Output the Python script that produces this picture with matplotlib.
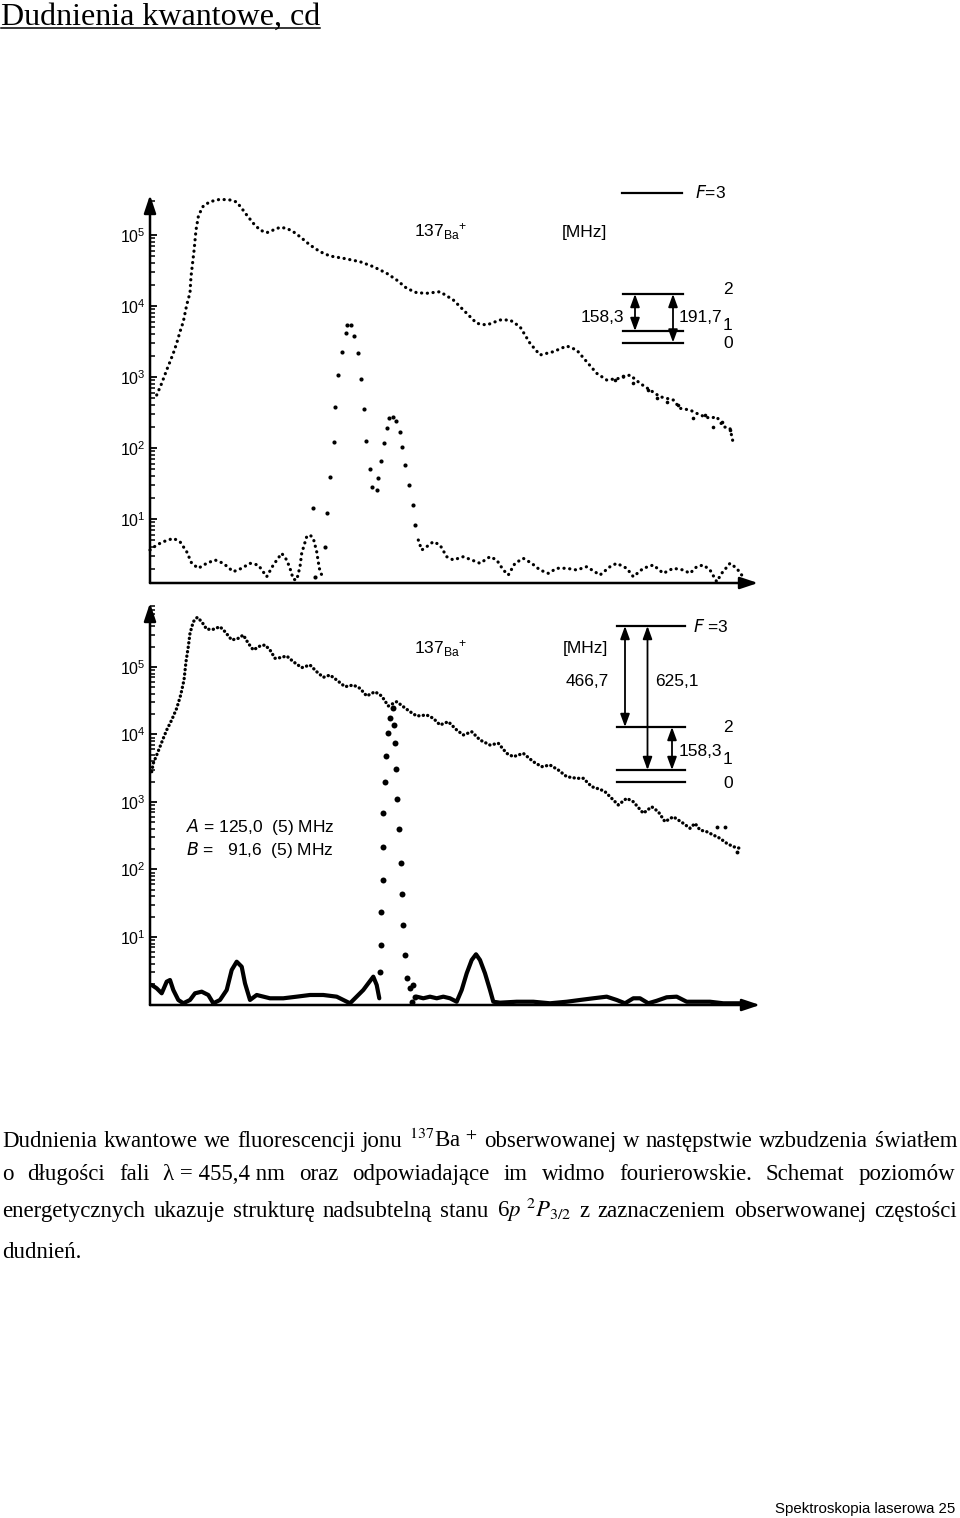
import numpy as np
import matplotlib
matplotlib.use("Agg")
import matplotlib.pyplot as plt
from matplotlib.ticker import FixedLocator, FuncFormatter, NullFormatter
from matplotlib.patches import FancyArrowPatch
from matplotlib.lines import Line2D
import warnings
warnings.filterwarnings("ignore")
import logging
logging.getLogger("matplotlib.font_manager").setLevel(logging.ERROR)

# ---------------- data (t: arbitrary time / frequency units, lg: log10 counts) --------------
# upper panel: decay curve
top_decay_t = [6.7, 11.7, 16.7, 20, 23.3, 26.7, 30, 33.3, 36.7, 40, 41, 44, 46, 48.3, 50.7,
               53.3, 60, 70, 80, 86.7, 91.7, 96.7, 103.3, 110, 116.7, 123.3, 130, 136.7, 143.3, 150,
               160, 170, 180, 193.3, 210, 223.3, 236.7, 246.7, 256.7, 266.7, 276.7, 290, 303.3, 316.7, 326.7,
               336.7, 350, 360, 370, 380, 390, 403.3, 416.7, 426.7, 436.7, 446.7, 456.7, 470, 480, 490,
               500, 510, 523.3, 530, 540, 550, 560, 566.7, 573.3, 580, 583.3]
top_decay_lg = [2.746, 2.911, 3.099, 3.215, 3.334, 3.475, 3.638, 3.779, 4.014, 4.187, 4.413, 4.775, 5.070, 5.258, 5.338,
                5.408, 5.469, 5.503, 5.493, 5.465, 5.376, 5.282, 5.165, 5.070, 5.032, 5.070, 5.108, 5.094, 5.046, 4.976,
                4.859, 4.765, 4.704, 4.672, 4.624, 4.554, 4.461, 4.366, 4.249, 4.187, 4.179, 4.201, 4.085, 3.897, 3.756,
                3.732, 3.803, 3.803, 3.708, 3.475, 3.310, 3.356, 3.437, 3.380, 3.215, 3.052, 2.958, 2.982, 3.028, 2.911,
                2.817, 2.723, 2.676, 2.559, 2.535, 2.465, 2.418, 2.441, 2.300, 2.277, 2.066]
top_noise_t = [465, 472.7, 483.3, 498.3, 506.7, 516.7, 528.3, 543.3, 555, 563.3, 571.7, 580]
top_noise_lg = [2.958, 3.014, 2.911, 2.817, 2.700, 2.652, 2.606, 2.418, 2.465, 2.300, 2.370, 2.254]

# upper panel: Fourier spectrum
top_fft_left_t = [0, 6.7, 13.3, 23.3, 30, 36.7, 41.7, 48.3, 56.7, 65, 73.3, 83.3, 91.7, 100, 108.3,
                  116.7, 123.3, 131.7, 136.7, 140, 143.3, 146.7, 150, 151.7, 156.7, 160, 163.3, 166.7, 169.3, 171.7]
top_fft_left_lg = [0.563, 0.634, 0.680, 0.728, 0.680, 0.539, 0.376, 0.306, 0.376, 0.423, 0.376, 0.258, 0.306, 0.376, 0.352,
                   0.187, 0.352, 0.517, 0.423, 0.306, 0.151, 0.141, 0.328, 0.517, 0.751, 0.775, 0.728, 0.539, 0.306, 0.211]
top_fft_peak_t = [162.7, 165, 175, 177.3, 180, 184, 185, 188.3, 191.7, 195.7, 197.3, 200.7, 204.3, 207.7, 210.7,
                  214, 216, 220, 222.3, 226.7, 228.3, 231, 234.3, 236.7, 239.3, 242.7, 246, 250, 252.3, 255,
                  259, 262.7, 265]
top_fft_peak_lg = [1.150, 0.187, 0.610, 1.080, 1.596, 2.089, 2.582, 3.028, 3.356, 3.615, 3.732, 3.732, 3.582, 3.334, 2.968,
                   2.545, 2.103, 1.700, 1.455, 1.408, 1.573, 1.821, 2.075, 2.277, 2.418, 2.441, 2.385, 2.221, 2.010, 1.756,
                   1.479, 1.197, 0.915]
top_fft_right_t = [268.3, 271.7, 276.7, 283.3, 290, 296.7, 303.3, 313.3, 321.7, 330, 340, 346.7, 353.3, 358.3, 365,
                   373.3, 381.7, 390, 398.3, 406.7, 416.7, 426.7, 436.7, 450, 460, 466.7, 476.7, 483.3, 493.3, 503.3,
                   513.3, 523.3, 533.3, 540, 546.7, 553.3, 560, 566.7, 571.7, 580, 586.7, 591.7]
top_fft_right_lg = [0.704, 0.563, 0.610, 0.680, 0.634, 0.469, 0.423, 0.469, 0.423, 0.376, 0.469, 0.423, 0.282, 0.211, 0.376,
                    0.446, 0.376, 0.282, 0.235, 0.306, 0.306, 0.282, 0.328, 0.211, 0.328, 0.376, 0.306, 0.187, 0.306, 0.352,
                    0.235, 0.306, 0.282, 0.235, 0.328, 0.352, 0.282, 0.117, 0.235, 0.376, 0.306, 0.211]

# lower panel: decay curve
bot_decay_t = [1.7, 3.3, 6.7, 10, 13.3, 16.7, 21.7, 26.7, 30.7, 34, 36, 38.3, 40, 43.3, 47.3,
               51.7, 56.7, 63.3, 70, 75, 81.7, 88.3, 93.3, 98.3, 103.3, 110, 115, 120, 125, 130,
               136.7, 143.3, 151.7, 160, 166.7, 173.3, 180, 186.7, 195, 203.3, 210, 216.7, 225, 231.7, 238.3,
               246.7, 253.3, 260, 266.7, 276.7, 283.3, 290, 298.3, 306.7, 313.3, 321.7, 330, 340, 348.3, 356.7,
               363.3, 373.3, 383.3, 391.7, 400, 408.3, 416.7, 426.7, 433.3, 441.7, 450, 455, 460, 468.3, 476.7,
               483.3, 493.3, 501.7, 508.3, 515, 523.3, 533.3, 540, 545, 550, 556.7, 563.3, 570, 576.7, 583.3, 590]
bot_decay_lg = [3.449, 3.573, 3.696, 3.819, 3.944, 4.067, 4.215, 4.388, 4.585, 4.807, 5.079, 5.301, 5.499, 5.671, 5.736,
                5.671, 5.559, 5.559, 5.597, 5.523, 5.400, 5.425, 5.474, 5.351, 5.252, 5.311, 5.326, 5.252, 5.129, 5.138,
                5.163, 5.079, 4.990, 5.030, 4.930, 4.847, 4.881, 4.807, 4.708, 4.733, 4.684, 4.570, 4.634, 4.570, 4.422,
                4.486, 4.412, 4.338, 4.274, 4.289, 4.240, 4.141, 4.190, 4.067, 3.993, 4.041, 3.919, 3.844, 3.870, 3.721,
                3.671, 3.721, 3.597, 3.523, 3.548, 3.474, 3.375, 3.351, 3.351, 3.227, 3.188, 3.153, 3.079, 2.956, 3.055,
                3.004, 2.833, 2.930, 2.856, 2.708, 2.782, 2.684, 2.610, 2.684, 2.585, 2.560, 2.511, 2.462, 2.388, 2.338, 2.314]
bot_noise_t = [566.7, 575, 586.7]
bot_noise_lg = [2.634, 2.634, 2.264]

# lower panel: Fourier spectrum
bot_fft_left_t = [1.7, 6.7, 11.7, 16.7, 20, 23.3, 28.3, 33.3, 40, 45, 51.7, 58.3, 63.3, 70, 76.7,
                  81.7, 86.7, 91.7, 95, 100, 106.7, 120, 133.3, 146.7, 160, 173.3, 186.7, 200, 208.3, 213.3,
                  218.3, 223.3, 226.7, 229.3]
bot_fft_left_lg = [0.289, 0.240, 0.166, 0.338, 0.363, 0.215, 0.067, 0.018, 0.067, 0.166, 0.190, 0.141, 0.018, 0.067, 0.215,
                   0.511, 0.634, 0.560, 0.314, 0.067, 0.141, 0.092, 0.092, 0.116, 0.141, 0.141, 0.116, 0.018, 0.141, 0.215,
                   0.314, 0.412, 0.289, 0.092]
bot_fft_peak_t = [230, 231, 231, 232.7, 233.3, 232.7, 235, 236, 237.7, 240, 243.3, 244.3, 245, 246, 247.3,
                  249.3, 251, 252.3, 253.3, 255, 256.7, 260, 261.7, 263.3, 265]
bot_fft_peak_lg = [0.486, 0.881, 1.375, 1.844, 2.338, 2.833, 3.301, 3.686, 4.027, 4.240, 4.388, 4.141, 3.870, 3.489, 3.044,
                   2.596, 2.101, 1.637, 1.178, 0.733, 0.388, 0.240, 0.041, 0.289, 0.116]
bot_fft_right_t = [266.7, 273.3, 280, 286.7, 293.3, 300, 306.7, 311.7, 316.7, 321.7, 326, 330, 335, 340, 343.3,
                   350, 366.7, 383.3, 400, 416.7, 430, 443.3, 456.7, 466.7, 475, 483.3, 490, 498.3, 506.7, 516.7,
                   526.7, 536.7, 546.7, 560, 573.3, 586.7, 593.3]
bot_fft_right_lg = [0.116, 0.092, 0.116, 0.092, 0.116, 0.092, 0.041, 0.215, 0.462, 0.659, 0.744, 0.659, 0.462, 0.215, 0.041,
                    0.027, 0.041, 0.041, 0.018, 0.041, 0.067, 0.092, 0.116, 0.067, 0.018, 0.092, 0.092, 0.018, 0.055, 0.107,
                    0.116, 0.041, 0.041, 0.041, 0.018, 0.018, 0.018]

decade_ticks = [1e1, 1e2, 1e3, 1e4, 1e5]

# hyperfine level diagrams (labels and splittings in MHz)
top_level_labels = ["2", "1", "0"]
top_splittings = ["158,3", "191,7"]
bot_level_labels = ["2", "1", "0"]
bot_splittings = ["466,7", "625,1", "158,3"]
hfs_constants = [r"$\mathit{A}$ = 125,0  (5) MHz", r"$\mathit{B}$ =   91,6  (5) MHz"]

caption_lines = [
    ["Dudnienia", "kwantowe", "we", "fluorescencji", "jonu", r"$^{137}$Ba $^{+}$", "obserwowanej", "w",
     "następstwie", "wzbudzenia", "światłem"],
    ["o", "długości", "fali", "λ = 455,4 nm", "oraz", "odpowiadające", "im", "widmo",
     "fourierowskie.", "Schemat", "poziomów"],
    ["energetycznych", "ukazuje", "strukturę", "nadsubtelną", "stanu", r"6$p$ $^{2}P_{3/2}$", "z",
     "zaznaczeniem", "obserwowanej", "częstości"],
    ["dudnień."],
]

# ---------------- figure ----------------
W, H = 960, 1518
fig = plt.figure(figsize=(W / 100, H / 100), dpi=100)
fig.patch.set_facecolor("white")


def fx(px):
    return px / W


def fy(py):
    return 1 - py / H


SANS = ["Liberation Sans Narrow", "Liberation Sans", "DejaVu Sans"]
SERIF = ["Liberation Serif", "DejaVu Serif"]


def make_axes(left, right, bottom, top, xmax, lgmin, lgmax):
    ax = fig.add_axes([fx(left), fy(bottom), fx(right) - fx(left), fy(top) - fy(bottom)])
    ax.set_yscale("log")
    ax.set_xlim(0, xmax)
    ax.set_ylim(10 ** lgmin, 10 ** lgmax)
    for s in ax.spines.values():
        s.set_visible(False)
    ax.set_facecolor("none")
    ax.xaxis.set_visible(False)
    ax.yaxis.set_major_locator(FixedLocator(decade_ticks))
    minors = [m * 10 ** e for e in range(0, 6) for m in range(2, 10)]
    ax.yaxis.set_minor_locator(FixedLocator(minors))
    ax.yaxis.set_major_formatter(FuncFormatter(lambda v, p: r"$\mathregular{10^{%d}}$" % round(np.log10(v))))
    ax.yaxis.set_minor_formatter(NullFormatter())
    ax.tick_params(axis="y", which="major", direction="in", length=5, width=1.3, pad=3, labelsize=11.5)
    ax.tick_params(axis="y", which="minor", direction="in", length=3.5, width=1.1)
    for lab in ax.get_yticklabels():
        lab.set_family(SANS)
    arrow_kw = dict(arrowstyle="-|>,head_length=0.9,head_width=0.3", mutation_scale=12,
                    lw=1.8, color="k", shrinkA=0, shrinkB=0)
    ax.annotate("", xy=(0, 1), xytext=(0, 0), xycoords="axes fraction", arrowprops=arrow_kw)
    ax.annotate("", xy=(1, 0), xytext=(0, 0), xycoords="axes fraction", arrowprops=arrow_kw)
    return ax


def pw(lst):
    return 10 ** np.asarray(lst, dtype=float)


dot_kw = dict(color="k", lw=2.3, ls=(0, (0.05, 1.75)), dash_capstyle="round", clip_on=False)

# ---- upper panel
ax1 = make_axes(150, 758, 583, 195, 608, 5 - (583 - 235) / 71, 5 + (235 - 195) / 71)
ax1.plot(top_decay_t, pw(top_decay_lg), **dot_kw)
ax1.plot(top_noise_t, pw(top_noise_lg), "o", color="k", ms=2.6, mew=0, clip_on=False)
ax1.plot(top_fft_left_t, pw(top_fft_left_lg), **dot_kw)
ax1.plot(top_fft_right_t, pw(top_fft_right_lg), **dot_kw)
ax1.plot(top_fft_peak_t, pw(top_fft_peak_lg), "o", color="k", ms=3.0, mew=0, clip_on=False)

# ---- lower panel
ax2 = make_axes(150, 760, 1005, 603, 610, 5 - (1005 - 667) / 67.5, 5 + (667 - 603) / 67.5)
ax2.plot(bot_decay_t, pw(bot_decay_lg), color="k", lw=2.4, ls=(0, (0.05, 1.3)),
         dash_capstyle="round", clip_on=False)
ax2.plot(bot_noise_t, pw(bot_noise_lg), "o", color="k", ms=2.8, mew=0, clip_on=False)
ax2.plot(bot_fft_left_t, pw(bot_fft_left_lg), color="k", lw=3.0, solid_capstyle="round",
         solid_joinstyle="round", clip_on=False)
ax2.plot(bot_fft_right_t, pw(bot_fft_right_lg), color="k", lw=3.0, solid_capstyle="round",
         solid_joinstyle="round", clip_on=False)
ax2.plot(bot_fft_peak_t, pw(bot_fft_peak_lg), "o", color="k", ms=4.3, mew=0, clip_on=False)


# ---------------- annotation helpers ----------------
def ftext(px, py, s, size=12, ha="left", va="center", family=None, **kw):
    return fig.text(fx(px), fy(py), s, fontsize=size, ha=ha, va=va,
                    family=family or SANS, math_fontfamily="dejavusans", **kw)


def hline(x0, x1, py, lw=1.6):
    fig.add_artist(Line2D([fx(x0), fx(x1)], [fy(py), fy(py)], color="k", lw=lw,
                          transform=fig.transFigure))


def darrow(px, py0, py1):
    fig.add_artist(FancyArrowPatch((fx(px), fy(py0)), (fx(px), fy(py1)), transform=fig.transFigure,
                                   arrowstyle="<|-|>,head_length=0.55,head_width=0.2", mutation_scale=14,
                                   lw=1.3, color="k", shrinkA=0, shrinkB=0))


BA_LABEL = r"$\mathregular{137_{Ba}{}^{+}}$"

# ---- upper diagram
ftext(414, 232, BA_LABEL, size=12.5)
ftext(584, 232, "[MHz]", size=12.5, ha="center")
hline(622, 682, 192.5)
ftext(695, 192, r"$\mathit{F}$=3", size=12.5)
hline(623, 683, 294)
hline(623, 683, 331)
hline(623, 683, 342.5)
darrow(635, 294, 331)
darrow(673, 294, 342.5)
ftext(602, 317, top_splittings[0], size=12.5, ha="center")
ftext(700, 317, top_splittings[1], size=12.5, ha="center")
for lab, py in zip(top_level_labels, [289, 325, 343]):
    ftext(728, py, lab, size=12.5, ha="center")

# ---- lower diagram
ftext(414, 649, BA_LABEL, size=12.5)
ftext(585, 648, "[MHz]", size=12.5, ha="center")
hline(617, 685, 626)
ftext(693, 626, r"$\mathit{F}$ =3", size=12.5)
hline(617, 685, 727)
hline(617, 685, 770)
hline(617, 685, 782.5)
darrow(625, 626, 727)
darrow(647.5, 626, 770)
darrow(672, 727, 770)
ftext(587, 681, bot_splittings[0], size=12.5, ha="center")
ftext(677, 681, bot_splittings[1], size=12.5, ha="center")
ftext(700, 752, bot_splittings[2], size=12.5, ha="center")
for lab, py in zip(bot_level_labels, [727, 760, 783]):
    ftext(728, py, lab, size=12.5, ha="center")
ftext(186, 827, hfs_constants[0], size=12.5)
ftext(186, 850, hfs_constants[1], size=12.5)

# ---- title
title = fig.text(fx(1), fy(24.5), "Dudnienia kwantowe, cd", fontsize=23, family=SERIF,
                 ha="left", va="baseline")
renderer = fig.canvas.get_renderer()
bb = title.get_window_extent(renderer)
fig.add_artist(Line2D([bb.x0 / W, bb.x1 / W], [fy(28), fy(28)], color="k", lw=1.1,
                      transform=fig.transFigure))


# ---- caption (justified)
def justify(words, base_py, x0, x1, size, min_gap=5.0):
    s = size
    while True:
        texts = [fig.text(0, 0, w, fontsize=s, family=SERIF, math_fontfamily="stix",
                          ha="left", va="baseline") for w in words]
        widths = [t.get_window_extent(renderer).width for t in texts]
        if len(words) == 1:
            gap = 0
            break
        gap = (x1 - x0 - sum(widths)) / (len(words) - 1)
        if gap >= min_gap or s < 8:
            break
        for t in texts:
            t.remove()
        s *= 0.985
    x = x0
    for t, w in zip(texts, widths):
        t.set_position((fx(x), fy(base_py)))
        x += w + gap


justify(caption_lines[0], 1147, 2, 957, 16.5)
justify(caption_lines[1], 1180, 2, 955, 16.5)
justify(caption_lines[2], 1217, 2, 957, 16.5)
justify(caption_lines[3], 1258, 2, 957, 16.5)

# ---- footer
fig.text(fx(955), fy(1513), "Spektroskopia laserowa 25", fontsize=10.8,
         family=["Liberation Sans", "DejaVu Sans"], ha="right", va="baseline")

fig.savefig("out.png", dpi=100, facecolor="white")
